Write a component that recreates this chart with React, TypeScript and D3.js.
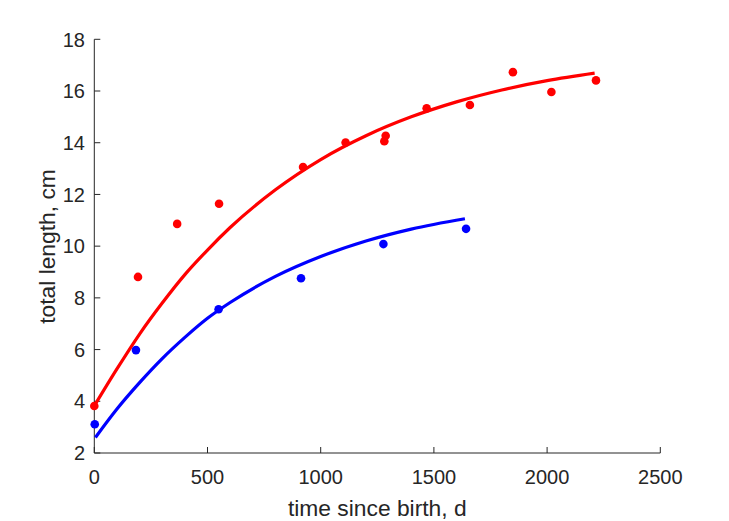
import React from "react";
import * as d3 from "d3";

// observed data (time since birth, d ; total length, cm)
const redX = [0, 193, 366, 551, 922, 1110, 1281, 1287, 1468, 1659, 1849, 2019, 2216];
const redY = [3.82, 8.81, 10.86, 11.64, 13.06, 14.01, 14.06, 14.27, 15.33, 15.46, 16.73, 15.96, 16.41];
const blueX = [2, 184, 549, 913, 1277, 1642];
const blueY = [3.11, 5.98, 7.56, 8.76, 10.08, 10.67];

// fitted growth curves
const redCurveX = [0, 100, 200, 300, 400, 500, 600, 800, 1000, 1200, 1400, 1600, 1800, 2000, 2210];
const redCurveY = [3.82, 5.25, 6.6, 7.8, 8.9, 9.85, 10.72, 12.18, 13.35, 14.27, 15.0, 15.58, 16.04, 16.4, 16.69];
const blueCurveX = [5, 100, 200, 300, 400, 500, 600, 800, 1000, 1200, 1400, 1637];
const blueCurveY = [2.6, 3.7, 4.72, 5.65, 6.47, 7.21, 7.82, 8.83, 9.6, 10.2, 10.66, 11.06];

const xTicks = [0, 500, 1000, 1500, 2000, 2500];
const yTicks = [2, 4, 6, 8, 10, 12, 14, 16, 18];

const xLabel = "time since birth, d";
const yLabel = "total length, cm";

export default function App() {
  const W = 729;
  const H = 521;
  const x = d3.scaleLinear().domain([0, 2500]).range([94.3, 660.3]);
  const y = d3.scaleLinear().domain([2, 18]).range([453, 39.3]);
  const line = d3
    .line<[number, number]>()
    .x((d) => x(d[0]))
    .y((d) => y(d[1]))
    .curve(d3.curveMonotoneX);

  const redCurve = redCurveX.map((v, i) => [v, redCurveY[i]] as [number, number]);
  const blueCurve = blueCurveX.map((v, i) => [v, blueCurveY[i]] as [number, number]);
  const axisColor = "#262626";
  const font = "'Liberation Sans', Arial, Helvetica, sans-serif";

  return (
    <svg
      width={W}
      height={H}
      style={{ position: "absolute", left: 0, top: 0, background: "#fff" }}
      fontFamily={font}
    >
      <rect x={0} y={0} width={W} height={H} fill="#fff" />
      {/* axes */}
      <line x1={x(0)} x2={x(2500)} y1={y(2)} y2={y(2)} stroke={axisColor} strokeWidth={1} />
      <line x1={x(0)} x2={x(0)} y1={y(2)} y2={y(18)} stroke={axisColor} strokeWidth={1} />
      {xTicks.map((t) => (
        <g key={"xt" + t}>
          <line x1={x(t)} x2={x(t)} y1={y(2)} y2={y(2) - 6} stroke={axisColor} strokeWidth={1} />
          <text x={x(t)} y={483.5} textAnchor="middle" fontSize={20} fill={axisColor}>
            {t}
          </text>
        </g>
      ))}
      {yTicks.map((t) => (
        <g key={"yt" + t}>
          <line x1={x(0)} x2={x(0) + 6} y1={y(t)} y2={y(t)} stroke={axisColor} strokeWidth={1} />
          <text x={85} y={y(t)} dy="0.36em" textAnchor="end" fontSize={20} fill={axisColor}>
            {t}
          </text>
        </g>
      ))}
      <text x={377.3} y={516} textAnchor="middle" fontSize={22.8} fill={axisColor}>
        {xLabel}
      </text>
      <text
        transform={`translate(55, 246.5) rotate(-90)`}
        textAnchor="middle"
        fontSize={22.8}
        fill={axisColor}
      >
        {yLabel}
      </text>

      {/* curves */}
      <path d={line(redCurve) || ""} fill="none" stroke="#ff0000" strokeWidth={3.2} />
      <path d={line(blueCurve) || ""} fill="none" stroke="#0000ff" strokeWidth={3.2} />

      {/* points */}
      {redX.map((v, i) => (
        <circle key={"r" + i} cx={x(v)} cy={y(redY[i])} r={4.3} fill="#ff0000" />
      ))}
      {blueX.map((v, i) => (
        <circle key={"b" + i} cx={x(v)} cy={y(blueY[i])} r={4.3} fill="#0000ff" />
      ))}
    </svg>
  );
}
